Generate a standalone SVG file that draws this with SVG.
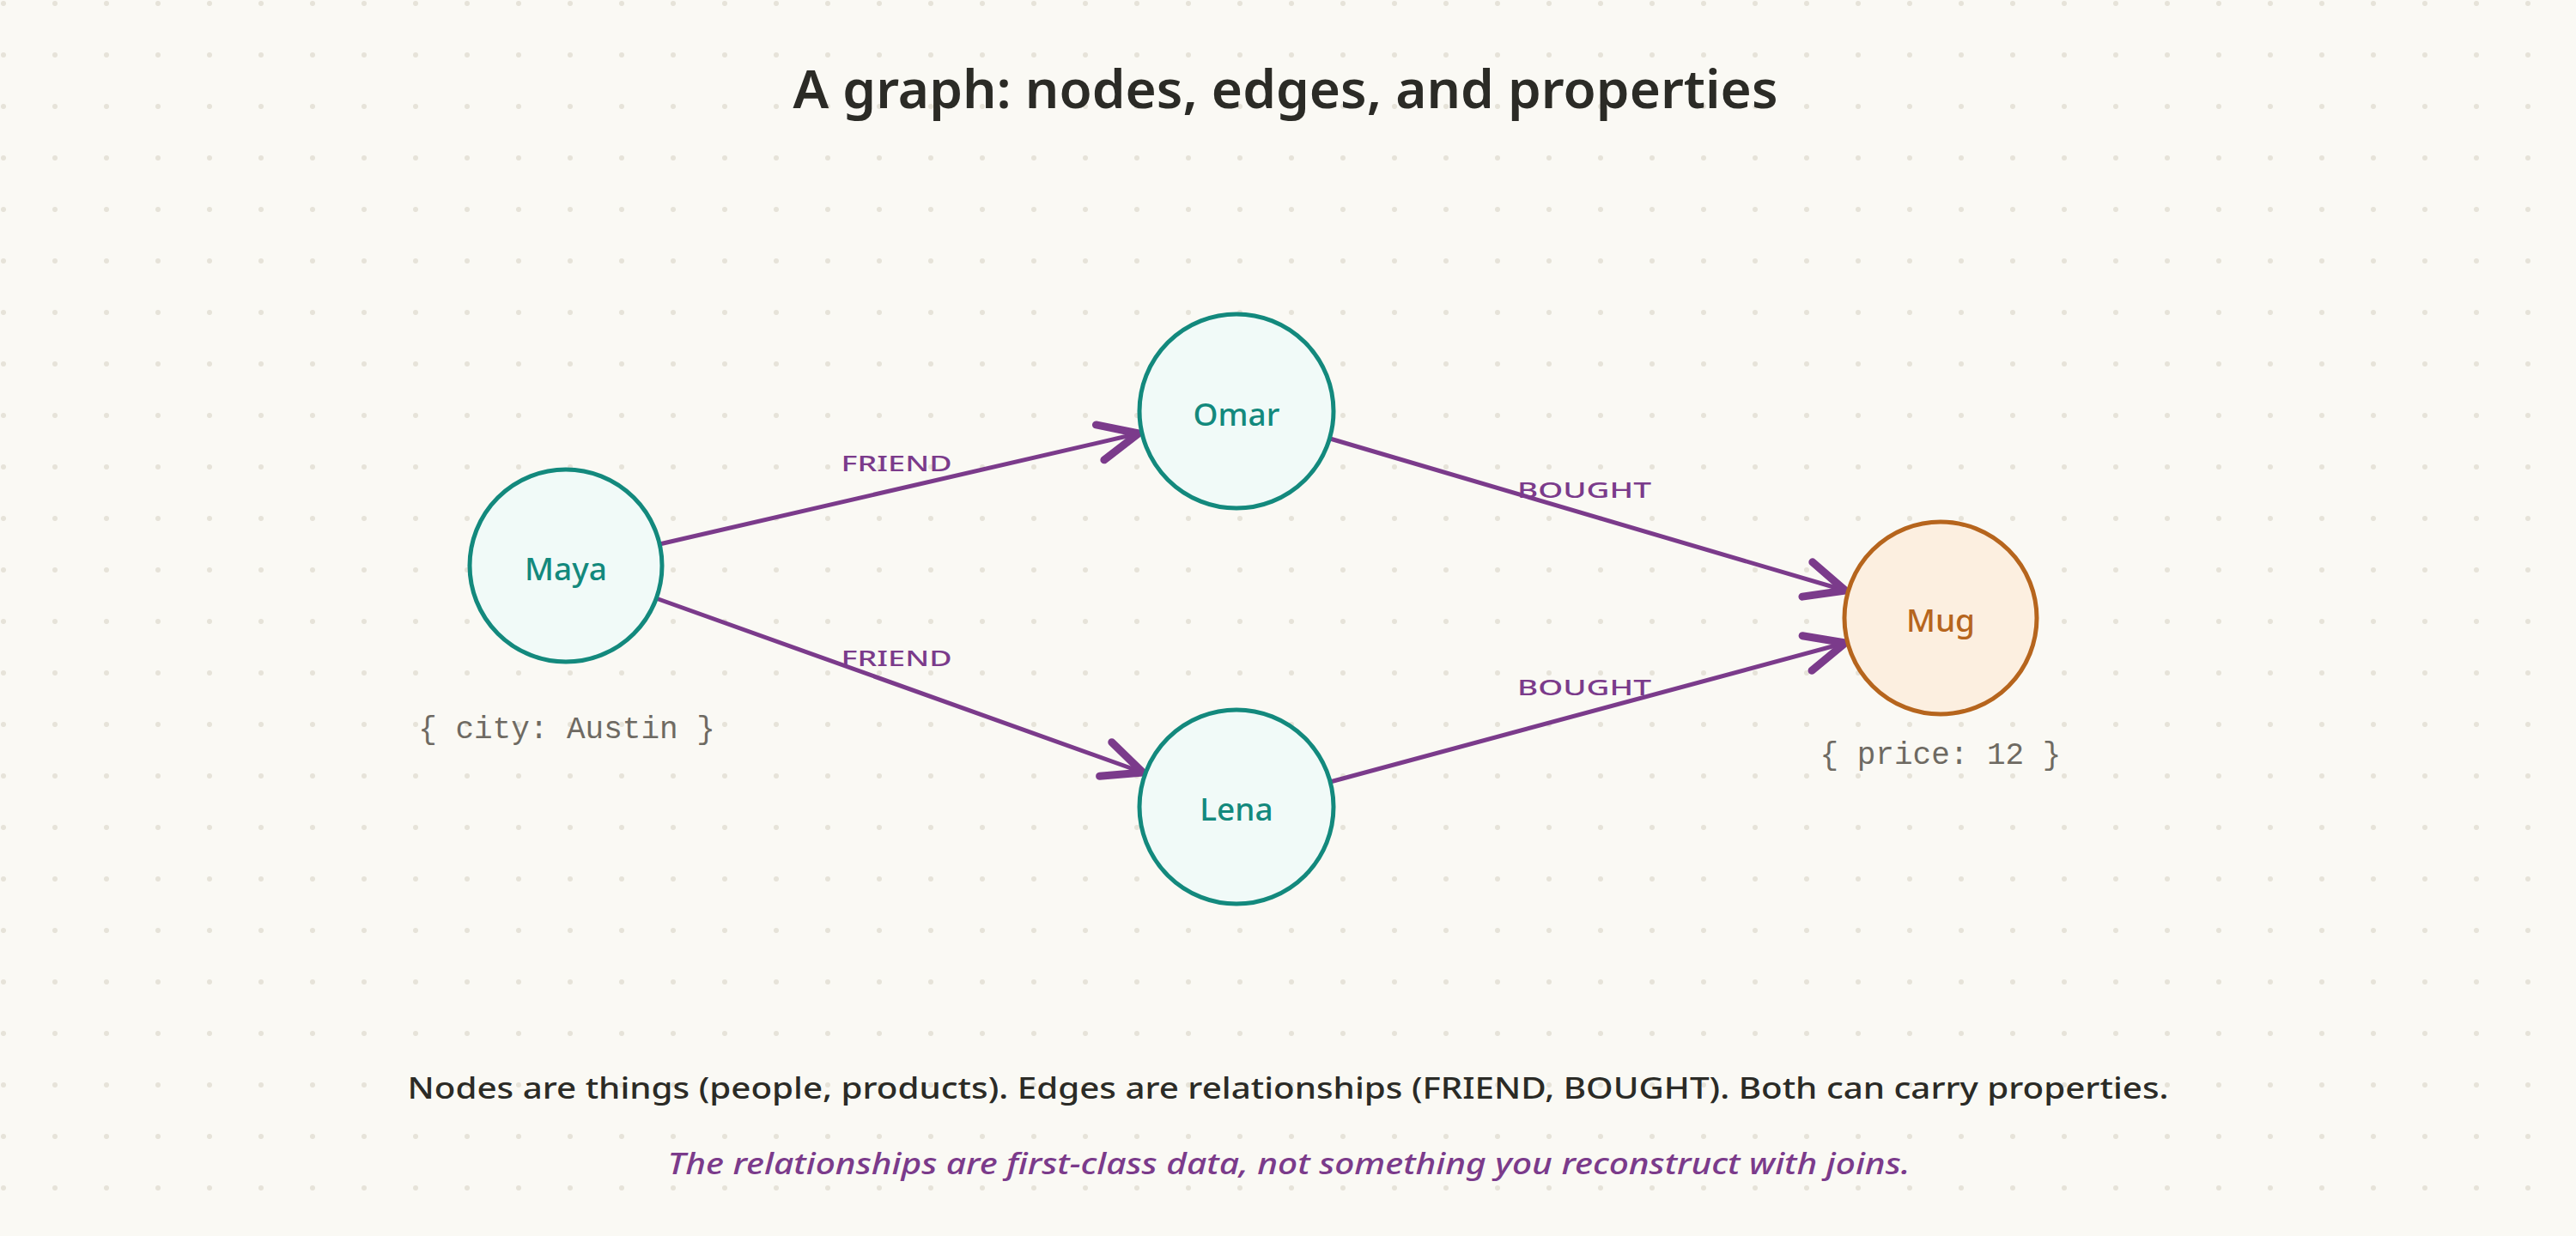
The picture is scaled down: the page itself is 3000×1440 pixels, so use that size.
<svg xmlns="http://www.w3.org/2000/svg" width="3000" height="1440" viewBox="0 0 3000 1440">
  <style>
    .hand { font-family: "Noto Sans", "DejaVu Sans", sans-serif; }
    .title { font-size: 62px; font-weight: 600; fill: #2b2b26; }
    .teal-node circle { fill: #f1faf8; stroke: #13897d; stroke-width: 5; }
    .teal-node text { fill: #13897d; font-size: 37px; font-weight: 500; }
    .mug-node circle { fill: #fcefe0; stroke: #b6651d; stroke-width: 5; }
    .mug-node text { fill: #b6651d; font-size: 37px; font-weight: 500; }
    .prop { font-family: "Liberation Mono", "DejaVu Sans Mono", monospace; font-size: 36px; fill: #6e6a62; }
    .edge { stroke: #7b3b8b; stroke-width: 5; fill: none; stroke-linecap: round; marker-end: url(#arrow); }
    .elabel { font-size: 26px; font-weight: 500; fill: #7b3b8b; }
    .foot { font-size: 35px; fill: #2b2b26; font-weight: 500; }
    .note { font-size: 35px; fill: #7b3b8b; font-style: italic; font-weight: 500; }
  </style>
  <defs>
    <pattern id="dots" x="0" y="0" width="60" height="60" patternUnits="userSpaceOnUse">
      <circle cx="4" cy="4" r="3" fill="#e6e3d9"/>
    </pattern>
    <marker id="arrow" markerUnits="userSpaceOnUse" markerWidth="80" markerHeight="80" refX="0" refY="0" orient="auto" overflow="visible">
      <path d="M -46,-21 L 0,0 L -46,21" fill="none" stroke="#7b3b8b" stroke-width="9" stroke-linecap="round" stroke-linejoin="round"/>
    </marker>
  </defs>

  <rect x="0" y="0" width="3000" height="1440" fill="#faf9f4"/>
  <rect x="0" y="0" width="3000" height="1440" fill="url(#dots)"/>

  <text class="hand title" x="1497" y="126" text-anchor="middle" textLength="1147" lengthAdjust="spacingAndGlyphs">A graph: nodes, edges, and properties</text>

  <g id="connectors">
    <path class="edge" d="M 768,634 L 1326,505"/>
    <path class="edge" d="M 764,697 L 1331,900"/>
    <path class="edge" d="M 1549,511 L 2149,688"/>
    <path class="edge" d="M 1549,911 L 2149,749"/>
    <text class="hand elabel" x="1044" y="549" text-anchor="middle" textLength="129" lengthAdjust="spacingAndGlyphs">FRIEND</text>
    <text class="hand elabel" x="1044" y="776" text-anchor="middle" textLength="129" lengthAdjust="spacingAndGlyphs">FRIEND</text>
    <text class="hand elabel" x="1845" y="580" text-anchor="middle" textLength="156" lengthAdjust="spacingAndGlyphs">BOUGHT</text>
    <text class="hand elabel" x="1845" y="810" text-anchor="middle" textLength="156" lengthAdjust="spacingAndGlyphs">BOUGHT</text>
  </g>

  <g id="node-maya" class="teal-node">
    <circle cx="659" cy="659" r="112"/>
    <text class="hand" x="659" y="676" text-anchor="middle">Maya</text>
  </g>
  <text id="prop-maya" class="prop" x="660" y="860" text-anchor="middle">{ city: Austin }</text>

  <g id="node-omar" class="teal-node">
    <circle cx="1440" cy="479" r="113"/>
    <text class="hand" x="1440" y="496" text-anchor="middle">Omar</text>
  </g>

  <g id="node-lena" class="teal-node">
    <circle cx="1440" cy="940" r="113"/>
    <text class="hand" x="1440" y="956" text-anchor="middle">Lena</text>
  </g>

  <g id="node-mug" class="mug-node">
    <circle cx="2260" cy="720" r="112"/>
    <text class="hand" x="2260" y="736" text-anchor="middle">Mug</text>
  </g>
  <text id="prop-mug" class="prop" x="2260" y="890" text-anchor="middle">{ price: 12 }</text>

  <text class="hand foot" x="1500" y="1280" text-anchor="middle" textLength="2051" lengthAdjust="spacingAndGlyphs">Nodes are things (people, products). Edges are relationships (FRIEND, BOUGHT). Both can carry properties.</text>
  <text class="hand note" x="1501" y="1368" text-anchor="middle" textLength="1447" lengthAdjust="spacingAndGlyphs">The relationships are first-class data, not something you reconstruct with joins.</text>
</svg>
